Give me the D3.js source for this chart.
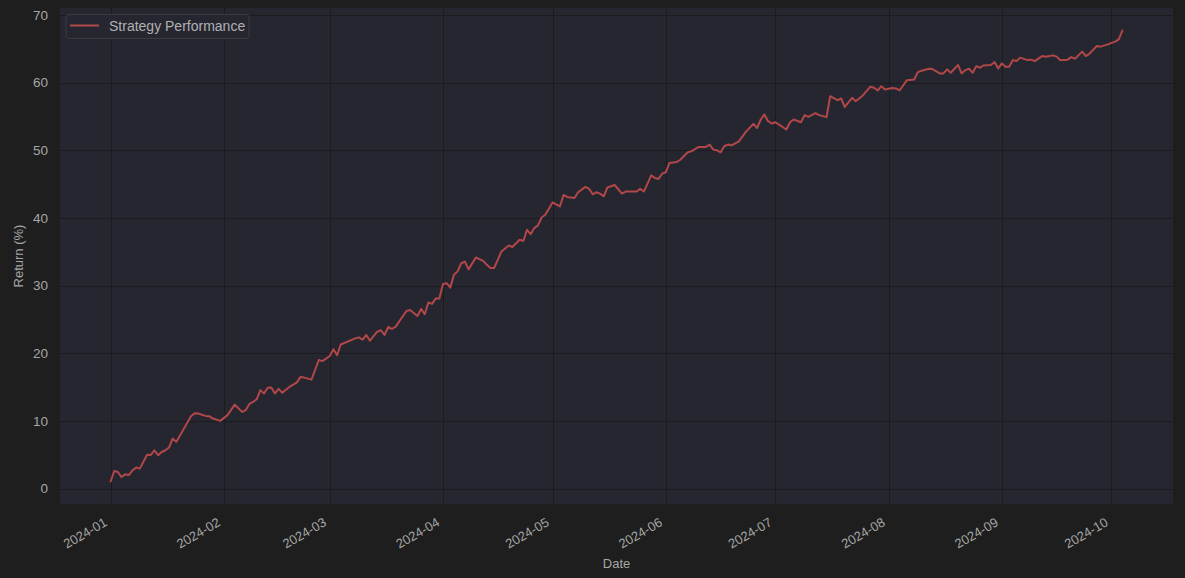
<!DOCTYPE html>
<html><head><meta charset="utf-8">
<script src="https://cdn.jsdelivr.net/npm/d3@7"></script>
<style>
html,body{margin:0;padding:0;background:#1e1e1e;}
svg{display:block;}
text{font-family:"Liberation Sans",Arial,Helvetica,sans-serif;}
</style></head>
<body><svg id="chart" width="1185" height="578"></svg>
<script>
const dates = [
"2024-01-01","2024-01-02","2024-01-03","2024-01-04","2024-01-05","2024-01-06","2024-01-07","2024-01-08","2024-01-09","2024-01-11",
"2024-01-12","2024-01-13","2024-01-14","2024-01-15","2024-01-16","2024-01-17","2024-01-18","2024-01-19","2024-01-23","2024-01-24",
"2024-01-25","2024-01-27","2024-01-28","2024-01-29","2024-01-31",
"2024-02-02","2024-02-04","2024-02-06","2024-02-07","2024-02-08","2024-02-09","2024-02-10","2024-02-11","2024-02-12","2024-02-13",
"2024-02-14","2024-02-15","2024-02-16","2024-02-17","2024-02-19","2024-02-21","2024-02-22","2024-02-23","2024-02-25","2024-02-27","2024-02-28",
"2024-03-01","2024-03-02","2024-03-03","2024-03-04","2024-03-08","2024-03-09","2024-03-10","2024-03-11","2024-03-12","2024-03-14",
"2024-03-15","2024-03-16","2024-03-17","2024-03-18","2024-03-19","2024-03-22","2024-03-23","2024-03-25","2024-03-26","2024-03-27",
"2024-03-28","2024-03-29","2024-03-30","2024-03-31",
"2024-04-01","2024-04-02","2024-04-03","2024-04-04","2024-04-05","2024-04-06","2024-04-07","2024-04-08","2024-04-10","2024-04-12",
"2024-04-13","2024-04-14","2024-04-15","2024-04-17","2024-04-19","2024-04-20","2024-04-22","2024-04-23","2024-04-24","2024-04-25",
"2024-04-26","2024-04-27","2024-04-28","2024-04-29",
"2024-05-01","2024-05-03","2024-05-04","2024-05-05","2024-05-07","2024-05-08","2024-05-10","2024-05-11","2024-05-12","2024-05-13",
"2024-05-14","2024-05-15","2024-05-16","2024-05-18","2024-05-20","2024-05-21","2024-05-24","2024-05-25","2024-05-26","2024-05-28",
"2024-05-29","2024-05-30","2024-05-31",
"2024-06-01","2024-06-02","2024-06-04","2024-06-05","2024-06-07","2024-06-08","2024-06-10","2024-06-12","2024-06-13","2024-06-14",
"2024-06-15","2024-06-16","2024-06-17","2024-06-18","2024-06-19","2024-06-21","2024-06-23","2024-06-25","2024-06-26","2024-06-27",
"2024-06-28","2024-06-29","2024-06-30",
"2024-07-01","2024-07-02","2024-07-04","2024-07-05","2024-07-06","2024-07-08","2024-07-09","2024-07-10","2024-07-12","2024-07-13",
"2024-07-15","2024-07-16","2024-07-18","2024-07-19","2024-07-20","2024-07-22","2024-07-23","2024-07-25","2024-07-27","2024-07-28",
"2024-07-29","2024-07-30","2024-07-31",
"2024-08-02","2024-08-03","2024-08-04","2024-08-06","2024-08-08","2024-08-09","2024-08-10","2024-08-12","2024-08-13","2024-08-15",
"2024-08-16","2024-08-17","2024-08-18","2024-08-20","2024-08-21","2024-08-22","2024-08-23","2024-08-24","2024-08-25","2024-08-26",
"2024-08-27","2024-08-29","2024-08-30","2024-08-31",
"2024-09-01","2024-09-02","2024-09-03","2024-09-04","2024-09-05","2024-09-06","2024-09-08","2024-09-09","2024-09-10","2024-09-12",
"2024-09-13","2024-09-15","2024-09-16","2024-09-17","2024-09-19","2024-09-20","2024-09-21","2024-09-23","2024-09-24","2024-09-25",
"2024-09-27","2024-09-28","2024-09-30",
"2024-10-02","2024-10-03","2024-10-04"
];
const returns = [
1.05,2.6,2.45,1.7,2.1,2.0,2.7,3.1,2.95,5.0,
4.96,5.66,4.92,5.4,5.66,6.06,7.4,6.9,10.7,11.14,
11.1,10.74,10.7,10.35,10.0,
10.85,12.4,11.33,11.6,12.5,12.8,13.2,14.55,14.06,14.9,
14.95,14.06,14.74,14.15,15.04,15.7,16.5,16.4,16.1,19.0,18.84,
19.6,20.6,19.7,21.3,22.2,22.35,22.0,22.7,21.85,23.2,
23.4,22.7,23.9,23.6,23.9,26.25,26.4,25.5,26.55,25.76,
27.5,27.3,28.1,28.1,
30.25,30.35,29.7,31.6,32.1,33.3,33.55,32.4,34.15,33.66,
33.07,32.6,32.6,35.04,35.93,35.7,36.77,36.6,38.25,37.6,
38.5,38.9,40.07,40.47,
42.3,41.7,43.4,43.1,42.95,43.8,44.6,44.3,43.5,43.8,
43.6,43.2,44.5,44.87,43.6,43.9,43.9,44.3,43.9,46.3,
45.9,45.76,46.55,
46.75,48.13,48.28,48.6,49.7,49.85,50.5,50.5,50.85,50.1,
50.0,49.7,50.6,50.85,50.74,51.33,52.8,53.9,53.3,54.55,
55.3,54.3,53.96,
54.15,53.8,53.07,54.15,54.55,54.15,55.2,54.95,55.5,55.2,
54.9,58.0,57.4,57.66,56.4,57.76,57.26,58.15,59.4,59.24,
58.84,59.48,59.0,
59.2,59.14,58.84,60.37,60.47,61.56,61.76,62.06,62.0,61.36,
61.36,61.96,61.47,62.6,61.36,61.85,62.06,61.47,62.44,62.2,
62.55,62.6,63.04,62.1,
62.84,62.36,62.36,63.33,63.19,63.7,63.33,63.4,63.19,63.93,
63.84,64.03,63.84,63.3,63.4,63.78,63.54,64.58,63.93,64.28,
65.41,65.32,65.66,
66.06,66.4,67.7
];
const yTicks = [0,10,20,30,40,50,60,70];
const xTickLabels = ["2024-01","2024-02","2024-03","2024-04","2024-05","2024-06","2024-07","2024-08","2024-09","2024-10"];
const seriesName = "Strategy Performance";
const xLabel = "Date";
const yLabel = "Return (%)";

const parse = d3.timeParse("%Y-%m-%d");
const parseMonth = d3.timeParse("%Y-%m");
const data = dates.map((d,i)=>({date:parse(d), value:returns[i]}));

const W=1185,H=578;
const m={left:60,right:12,top:8,bottom:74};
const svg=d3.select("#chart");
svg.append("rect").attr("width",W).attr("height",H).attr("fill","#1e1e1e");

const xExt=d3.extent(data,d=>d.date);
const xSpan=xExt[1]-xExt[0];
const x=d3.scaleTime()
  .domain([new Date(+xExt[0]-0.05*xSpan), new Date(+xExt[1]+0.05*xSpan)])
  .range([m.left, W-m.right]);
const yExt=d3.extent(data,d=>d.value);
const ySpan=yExt[1]-yExt[0];
const y=d3.scaleLinear()
  .domain([yExt[0]-0.05*ySpan, yExt[1]+0.05*ySpan])
  .range([H-m.bottom, m.top]);

svg.append("rect").attr("x",m.left).attr("y",m.top)
  .attr("width",W-m.left-m.right).attr("height",H-m.top-m.bottom)
  .attr("fill","#252630");

const xTickDates = xTickLabels.map(s=>parseMonth(s));

// grid
const grid=svg.append("g");
grid.selectAll(".gx").data(xTickDates).join("line")
  .attr("x1",d=>Math.round(x(d))+0.5).attr("x2",d=>Math.round(x(d))+0.5)
  .attr("y1",m.top).attr("y2",H-m.bottom)
  .attr("stroke","#1c1c1f").attr("stroke-width",1);
grid.selectAll(".gy").data(yTicks).join("line")
  .attr("y1",d=>Math.round(y(d))+0.5).attr("y2",d=>Math.round(y(d))+0.5)
  .attr("x1",m.left).attr("x2",W-m.right)
  .attr("stroke","#1c1c1f").attr("stroke-width",1);

// axes via d3 axis
const xAxis=svg.append("g").attr("transform",`translate(0,${H-m.bottom})`)
  .call(d3.axisBottom(x).tickValues(xTickDates).tickFormat(d3.timeFormat("%Y-%m")).tickSize(0).tickPadding(0));
xAxis.select(".domain").remove();
xAxis.selectAll("text")
  .attr("fill","#a6a6a6").attr("font-size","13px")
  .attr("text-anchor","end")
  .attr("dy",null).attr("y",null)
  .attr("transform","translate(-3,21) rotate(-30)");

const yAxis=svg.append("g").attr("transform",`translate(${m.left},0)`)
  .call(d3.axisLeft(y).tickValues(yTicks).tickFormat(d3.format("d")).tickSize(0).tickPadding(12));
yAxis.select(".domain").remove();
yAxis.selectAll("text").attr("fill","#a6a6a6").attr("font-size","13.5px");

// line
const line=d3.line().x(d=>x(d.date)).y(d=>y(d.value));
svg.append("path").datum(data).attr("d",line)
  .attr("fill","none").attr("stroke","#b24749").attr("stroke-width",2)
  .attr("stroke-linejoin","round").attr("stroke-linecap","round");

// labels
svg.append("text").attr("x",(m.left+W-m.right)/2+0).attr("y",568)
  .attr("text-anchor","middle").attr("fill","#a6a6a6").attr("font-size","13px").text(xLabel);
svg.append("text").attr("transform",`translate(23,${(m.top+H-m.bottom)/2}) rotate(-90)`)
  .attr("text-anchor","middle").attr("fill","#a6a6a6").attr("font-size","13px").text(yLabel);

// legend
const lg=svg.append("g");
lg.append("rect").attr("x",66).attr("y",14.5).attr("width",183).attr("height",24).attr("rx",3)
  .attr("fill","#252630").attr("stroke","#3a3b40").attr("stroke-width",1);
lg.append("line").attr("x1",70).attr("x2",99).attr("y1",25.5).attr("y2",25.5)
  .attr("stroke","#b24749").attr("stroke-width",2);
lg.append("text").attr("x",109).attr("y",30.5).attr("fill","#b0b0b0").attr("font-size","14px").text(seriesName);
</script></body></html>
